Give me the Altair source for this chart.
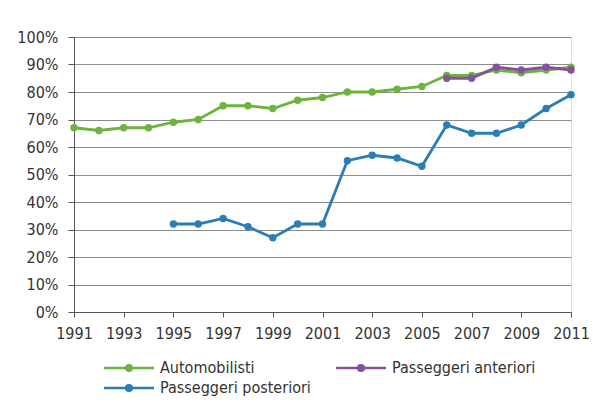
import altair as alt
import pandas as pd

years_auto = list(range(1991, 2012))
auto = [67, 66, 67, 67, 69, 70, 75, 75, 74, 77, 78, 80, 80, 81, 82, 86, 86, 88, 87, 88, 89]
years_ant = list(range(2006, 2012))
ant = [85, 85, 89, 88, 89, 88]
years_post = list(range(1995, 2012))
post = [32, 32, 34, 31, 27, 32, 32, 55, 57, 56, 53, 68, 65, 65, 68, 74, 79]

series = ["Automobilisti", "Passeggeri anteriori", "Passeggeri posteriori"]
colors = ["#6db33f", "#8a4f9c", "#2a7db5"]
x_ticks = list(range(1991, 2012, 2))
y_ticks = [i / 10 for i in range(11)]

rows = []
for y, v in zip(years_auto, auto):
    rows.append({"anno": y, "valore": v / 100, "serie": series[0]})
for y, v in zip(years_ant, ant):
    rows.append({"anno": y, "valore": v / 100, "serie": series[1]})
for y, v in zip(years_post, post):
    rows.append({"anno": y, "valore": v / 100, "serie": series[2]})
df = pd.DataFrame(rows)

FONT = "Liberation Sans Narrow, DejaVu Sans Condensed, Open Sans"
# line + dot legend symbol; path units scaled by sqrt(size)/2
sym = "M-4,0L4,0M0.45,0A0.45,0.45,0,1,1,-0.45,0A0.45,0.45,0,1,1,0.45,0Z"

color = alt.Color(
    "serie:N",
    scale=alt.Scale(domain=series, range=colors),
    legend=alt.Legend(
        title=None,
        orient="none",
        legendX=47,
        legendY=323,
        direction="horizontal",
        columns=2,
        columnPadding=20,
        rowPadding=4,
        symbolType=sym,
        symbolSize=156,
        symbolStrokeWidth=2.5,
        labelFont=FONT,
        labelFontSize=16,
        labelColor="#333333",
        labelOffset=23,
        labelLimit=300,
    ),
)

x = alt.X(
    "anno:Q",
    scale=alt.Scale(domain=[1991, 2011], nice=False, zero=False),
    axis=alt.Axis(
        values=x_ticks, format="d", title=None, grid=False, labelFlush=False,
        labelFont=FONT, labelFontSize=16, labelColor="#333333",
        domainColor="#555555", tickColor="#555555", tickSize=5, labelPadding=8,
    ),
)
y = alt.Y(
    "valore:Q",
    scale=alt.Scale(domain=[0, 1], nice=False),
    axis=alt.Axis(
        values=y_ticks, format=".0%", title=None, grid=True, labelFlush=False,
        gridColor="#8c8c8c", gridWidth=1,
        labelFont=FONT, labelFontSize=16, labelColor="#333333",
        domainColor="#555555", tickColor="#555555", tickSize=6, labelPadding=10,
    ),
)

layers = []
for s in series:
    sub = df[df.serie == s]
    layers.append(alt.Chart(sub).mark_line(strokeWidth=2.8).encode(x=x, y=y, color=color))
    layers.append(alt.Chart(sub).mark_circle(size=55, opacity=1).encode(x=x, y=y, color=color))

chart = alt.layer(*layers).properties(
    width=497,
    height=275,
    autosize=alt.AutoSizeParams(type="none"),
    padding={"left": 66, "top": 29, "right": 29, "bottom": 86},
).configure_view(stroke=None).configure(background="white")

chart.save("out.html", embed_options={"renderer": "svg", "actions": False})
